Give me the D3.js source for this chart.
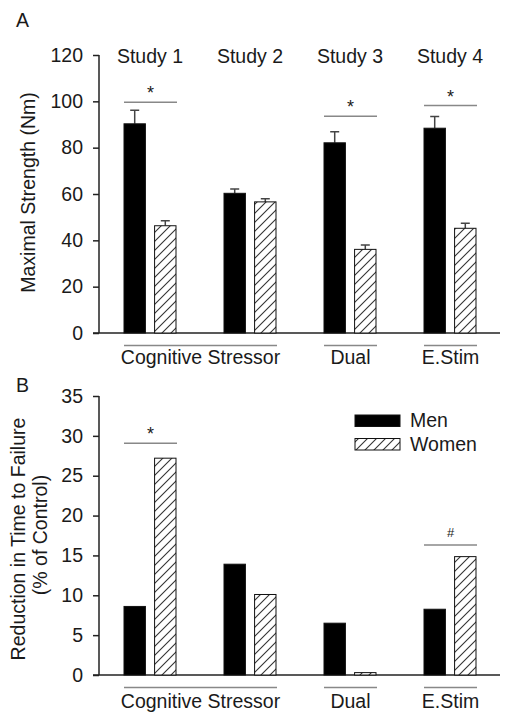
<!DOCTYPE html>
<html>
<head>
<meta charset="utf-8">
<script src="https://cdn.jsdelivr.net/npm/d3@7"></script>
<style>
  html, body { margin: 0; padding: 0; background: #fff; }
  svg { display: block; }
  text { font-family: "Liberation Sans", Arial, sans-serif; fill: #1a1a1a; }
</style>
</head>
<body>
<svg id="chart" width="510" height="722"></svg>
<script>
// ---------- data ----------
const studies = ["Study 1", "Study 2", "Study 3", "Study 4"];
const series = ["Men", "Women"];

// Panel A: maximal strength (Nm)
const strengthMen = [90.3, 60.3, 82.1, 88.4];
const strengthWomen = [46.3, 56.6, 36.1, 45.2];
const strengthMenErr = [96.2, 62.2, 86.9, 93.4];
const strengthWomenErr = [48.5, 58.0, 38.0, 47.4];
const strengthTicks = [0, 20, 40, 60, 80, 100, 120];
const strengthSig = [
  { study: "Study 1", level: 99.6, mark: "*" },
  { study: "Study 3", level: 93.6, mark: "*" },
  { study: "Study 4", level: 98.2, mark: "*" }
];

// Panel B: reduction in time to failure (% of control)
const ttfMen = [8.6, 13.9, 6.5, 8.25];
const ttfWomen = [27.2, 10.1, 0.3, 14.85];
const ttfTicks = [0, 5, 10, 15, 20, 25, 30, 35];
const ttfSig = [
  { study: "Study 1", level: 29.07, mark: "*" },
  { study: "Study 4", level: 16.3, mark: "#" }
];

// condition groupings below the axes
const conditions = [
  { label: "Cognitive Stressor", from: "Study 1", to: "Study 2" },
  { label: "Dual", from: "Study 3", to: "Study 3" },
  { label: "E.Stim", from: "Study 4", to: "Study 4" }
];

// ---------- setup ----------
const svg = d3.select("#chart");
const defs = svg.append("defs");
const pat = defs.append("pattern")
  .attr("id", "hatch")
  .attr("patternUnits", "userSpaceOnUse")
  .attr("width", 9).attr("height", 9);
pat.append("rect").attr("width", 9).attr("height", 9).attr("fill", "#fff");
pat.append("path")
  .attr("d", "M0,9 L9,0 M-1,1 L1,-1 M8,10 L10,8")
  .attr("stroke", "#333").attr("stroke-width", 1.1);

const x = d3.scaleBand().domain(studies).range([100, 500]).padding(0);
const xi = d3.scaleBand().domain(series).range([24, 76]).paddingInner(0.3).paddingOuter(0);
const fills = { Men: "#000", Women: "url(#hatch)" };
const FS = "19.5px";

function panel(cfg) {
  const y = d3.scaleLinear().domain(cfg.domain).range(cfg.range);
  const g = svg.append("g");

  // y axis
  const ax = g.append("g")
    .attr("transform", "translate(99,0)")
    .call(d3.axisLeft(y).tickValues(cfg.ticks).tickSize(6).tickPadding(10).tickFormat(d3.format("d")));
  ax.select(".domain").attr("stroke", "#222").attr("stroke-width", 1.5)
    .attr("d", `M0,${cfg.range[0]}V${cfg.range[1]}`);
  ax.selectAll(".tick line").attr("stroke", "#222").attr("stroke-width", 1.5);
  ax.selectAll(".tick text").style("font-size", FS).attr("fill", "#1a1a1a")
    .style("font-family", '"Liberation Sans", Arial, sans-serif');

  // x baseline
  g.append("line")
    .attr("x1", 93).attr("x2", 500)
    .attr("y1", y(0)).attr("y2", y(0))
    .attr("stroke", "#222").attr("stroke-width", 1.5);

  // bars
  const rows = [];
  studies.forEach((s, i) => {
    rows.push({ study: s, series: "Men", v: cfg.men[i], e: cfg.menErr ? cfg.menErr[i] : null });
    rows.push({ study: s, series: "Women", v: cfg.women[i], e: cfg.womenErr ? cfg.womenErr[i] : null });
  });

  const eb = rows.filter(d => d.e != null);
  g.selectAll(".err").data(eb).enter().append("path")
    .attr("d", d => {
      const cx = x(d.study) + xi(d.series) + xi.bandwidth() / 2;
      return `M${cx},${y(d.v)}V${y(d.e)}M${cx - 4.5},${y(d.e)}H${cx + 4.5}`;
    })
    .attr("stroke", "#444").attr("stroke-width", 1.5).attr("fill", "none");

  g.selectAll(".bar").data(rows).enter().append("rect")
    .attr("x", d => x(d.study) + xi(d.series))
    .attr("width", xi.bandwidth())
    .attr("y", d => y(d.v))
    .attr("height", d => y(0) - y(d.v))
    .attr("fill", d => fills[d.series])
    .attr("stroke", "#111").attr("stroke-width", 1);

  // significance lines
  cfg.sig.forEach(s => {
    const x1 = x(s.study) + xi("Men");
    const x2 = x(s.study) + xi("Women") + xi.bandwidth() + 1;
    g.append("line").attr("x1", x1).attr("x2", x2)
      .attr("y1", y(s.level)).attr("y2", y(s.level))
      .attr("stroke", "#888").attr("stroke-width", 1.5);
    g.append("text")
      .attr("x", (x1 + x2) / 2)
      .attr("y", y(s.level) - (s.mark === "#" ? 8 : 3))
      .attr("text-anchor", "middle")
      .style("font-size", s.mark === "#" ? "13px" : "18px")
      .text(s.mark);
  });

  // condition groupings
  conditions.forEach(c => {
    const x1 = x(c.from) + xi("Men");
    const x2 = x(c.to) + xi("Women") + xi.bandwidth() + 1;
    g.append("line").attr("x1", x1).attr("x2", x2)
      .attr("y1", y(0) + cfg.bracketOff).attr("y2", y(0) + cfg.bracketOff)
      .attr("stroke", "#888").attr("stroke-width", 1.5);
    g.append("text")
      .attr("x", (x1 + x2) / 2).attr("y", y(0) + cfg.labelOff)
      .attr("text-anchor", "middle").style("font-size", FS)
      .text(c.label);
  });

  return { g, y };
}

// Panel A
const A = panel({
  domain: [0, 120], range: [333, 55], ticks: strengthTicks,
  men: strengthMen, women: strengthWomen,
  menErr: strengthMenErr, womenErr: strengthWomenErr,
  sig: strengthSig, bracketOff: 12.5, labelOff: 31
});
A.g.selectAll(".study").data(studies).enter().append("text")
  .attr("x", d => x(d) + 50).attr("y", 63)
  .attr("text-anchor", "middle").style("font-size", FS)
  .text(d => d);
A.g.append("text")
  .attr("transform", "translate(35,192.5) rotate(-90)")
  .attr("text-anchor", "middle").style("font-size", FS)
  .text("Maximal Strength (Nm)");
svg.append("text").attr("x", 16).attr("y", 27).style("font-size", FS).text("A");

// Panel B
const B = panel({
  domain: [0, 35], range: [675, 396], ticks: ttfTicks,
  men: ttfMen, women: ttfWomen,
  sig: ttfSig, bracketOff: 12.5, labelOff: 33
});
B.g.append("text")
  .attr("transform", "translate(25,539) rotate(-90)")
  .attr("text-anchor", "middle").style("font-size", FS)
  .text("Reduction in Time to Failure");
B.g.append("text")
  .attr("transform", "translate(47,535) rotate(-90)")
  .attr("text-anchor", "middle").style("font-size", FS)
  .text("(% of Control)");
svg.append("text").attr("x", 16).attr("y", 392).style("font-size", FS).text("B");

// legend
const leg = svg.append("g").attr("transform", "translate(355,415)");
series.forEach((s, i) => {
  leg.append("rect")
    .attr("x", 0).attr("y", i * 23.5)
    .attr("width", 45).attr("height", 11.5)
    .attr("fill", fills[s]).attr("stroke", "#111").attr("stroke-width", 1);
  leg.append("text")
    .attr("x", 55).attr("y", i * 23.5 + 12)
    .style("font-size", FS).text(s);
});
</script>
</body>
</html>
